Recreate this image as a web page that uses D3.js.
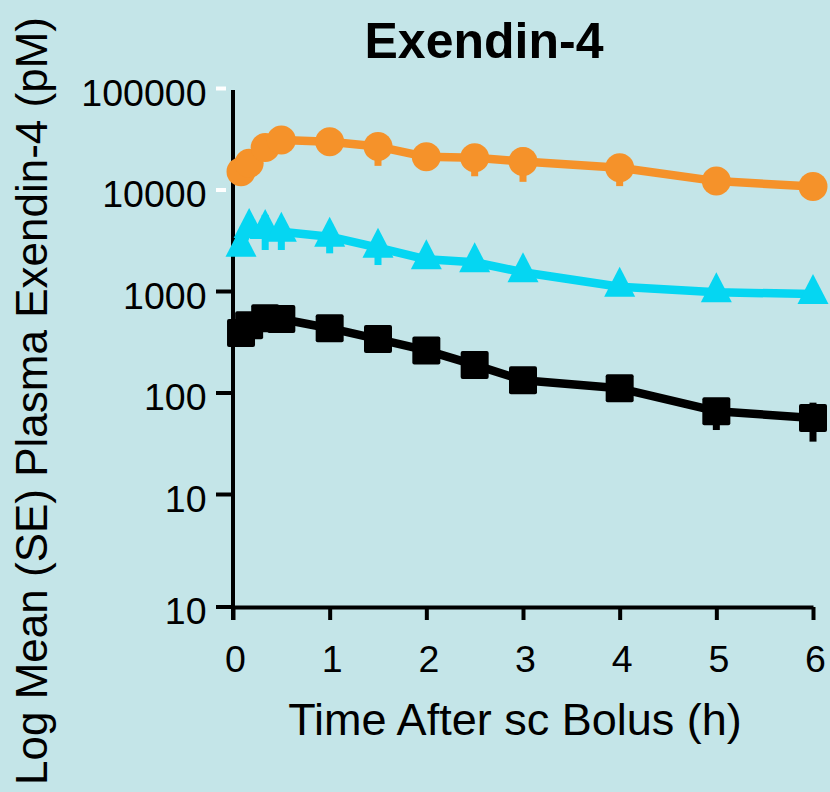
<!DOCTYPE html>
<html>
<head>
<meta charset="utf-8">
<script src="https://cdn.jsdelivr.net/npm/d3@7/dist/d3.min.js"></script>
<style>
  html, body { margin: 0; padding: 0; background: #c4e5e8; }
  svg { display: block; }
  text { font-family: "Liberation Sans", Arial, Helvetica, sans-serif; fill: #000; }
</style>
</head>
<body>
<svg id="chart" width="830" height="792"></svg>
<script>
// Sampling times (h) after the subcutaneous bolus
const times = [0.083, 0.167, 0.333, 0.5, 1, 1.5, 2, 2.5, 3, 4, 5, 6];

// Mean plasma exendin-4 (pM) and standard errors, one array per dose group
const highMean = [15000, 18100, 26000, 30700, 29600, 26500, 21000, 20500, 18900, 16400, 12100, 10700];
const highSE   = [1500, 2000, 3000, 3000, 3000, 9400, 3000, 7000, 7000, 5600, 1500, 1200];

const midMean  = [2730, 4180, 4080, 3840, 3430, 2670, 2050, 1920, 1530, 1100, 970, 935];
const midSE    = [400, 800, 1545, 1305, 1080, 867, 300, 250, 200, 150, 100, 100];

const lowMean  = [385, 459, 538, 530, 430, 336, 260, 187, 132, 110, 65.4, 56.1];
const lowSE    = [40, 50, 60, 60, 50, 40, 30, 20, 15, 12, 22.7, 23.3];

// Axis ticks
const xTicks = [0, 1, 2, 3, 4, 5, 6];
const yTicks = [10, 100, 1000, 10000, 100000];
const yTickLabels = ["10", "100", "1000", "10000", "100000"];
const yBaseLabel = "10";

const title = "Exendin-4";
const xTitle = "Time After sc Bolus (h)";
const yTitle = "Log Mean (SE) Plasma Exendin-4 (pM)";

const svg = d3.select("#chart");
const W = 830, H = 792;
svg.append("rect").attr("width", W).attr("height", H).attr("fill", "#c4e5e8");

const x = d3.scaleLinear().domain([0, 6]).range([233, 813]);
const y = d3.scaleLog().domain([10, 100000]).range([494, 88]);
const baseY = 607;      // x-axis baseline
const tickFont = 37.5;

// ---- y axis ----
const yAxis = d3.axisLeft(y)
  .tickValues(yTicks)
  .tickSize(17)
  .tickPadding(9)
  .tickFormat((d, i) => yTickLabels[i]);

const gy = svg.append("g").attr("transform", "translate(233,0)").call(yAxis);
gy.select(".domain").remove();
gy.selectAll(".tick line")
  .attr("stroke-width", 4)
  .attr("stroke", d => d >= 10000 ? "#ffffff" : "#000")
  .attr("x1", d => d >= 10000 ? -7 : 0);
gy.selectAll(".tick text")
  .attr("font-size", tickFont)
  .attr("dy", 0)
  .attr("y", 17)
  .attr("x", -26.5);

// vertical axis line
svg.append("line")
  .attr("x1", 233).attr("x2", 233)
  .attr("y1", 90).attr("y2", baseY + 13)
  .attr("stroke", "#000").attr("stroke-width", 4);

// bottom-left tick and its label
svg.append("line")
  .attr("x1", 216).attr("x2", 233)
  .attr("y1", baseY).attr("y2", baseY)
  .attr("stroke", "#000").attr("stroke-width", 4);
svg.append("text")
  .attr("x", 206.5).attr("y", baseY + 17)
  .attr("text-anchor", "end")
  .attr("font-size", tickFont)
  .text(yBaseLabel);

// ---- x axis ----
const xAxis = d3.axisBottom(x)
  .tickValues(xTicks)
  .tickSize(13)
  .tickSizeOuter(0)
  .tickFormat(d3.format("d"));

const gx = svg.append("g").attr("transform", `translate(0,${baseY})`).call(xAxis);
gx.select(".domain").attr("stroke", "#000").attr("stroke-width", 4);
gx.selectAll(".tick line").attr("stroke", "#000").attr("stroke-width", 4);
gx.selectAll(".tick text")
  .attr("font-size", tickFont)
  .attr("dy", 0)
  .attr("y", 65)
  .attr("x", 2);
gx.selectAll("text").attr("fill", "#000");
gy.selectAll("text").attr("fill", "#000");

// ---- titles ----
svg.append("text")
  .attr("x", 484).attr("y", 58)
  .attr("text-anchor", "middle")
  .attr("font-size", 50)
  .attr("font-weight", "bold")
  .text(title);

svg.append("text")
  .attr("x", 515).attr("y", 735)
  .attr("text-anchor", "middle")
  .attr("font-size", 45)
  .text(xTitle);

svg.append("text")
  .attr("transform", "translate(47,401) rotate(-90)")
  .attr("text-anchor", "middle")
  .attr("font-size", 44)
  .text(yTitle);

// ---- series ----
const series = [
  { mean: lowMean,  se: lowSE,  color: "#000000", shape: "square" },
  { mean: midMean,  se: midSE,  color: "#05d6f2", shape: "triangle" },
  { mean: highMean, se: highSE, color: "#f5922a", shape: "circle" }
];

const line = d3.line()
  .x(d => x(d.t))
  .y(d => y(d.v));

series.forEach(s => {
  const pts = times.map((t, i) => ({ t, v: s.mean[i], e: s.se[i] }));
  const g = svg.append("g");

  g.append("path")
    .datum(pts)
    .attr("d", line)
    .attr("fill", "none")
    .attr("stroke", s.color)
    .attr("stroke-width", 8.5)
    .attr("stroke-linejoin", "round");

  // SE bars
  g.selectAll("rect.err")
    .data(pts)
    .join("rect")
    .attr("class", "err")
    .attr("x", d => x(d.t) - 3.5)
    .attr("width", 7)
    .attr("y", d => y(d.v + d.e))
    .attr("height", d => y(Math.max(d.v - d.e, 1e-3)) - y(d.v + d.e))
    .attr("fill", s.color);

  if (s.shape === "circle") {
    g.selectAll("circle.mk")
      .data(pts)
      .join("circle")
      .attr("class", "mk")
      .attr("cx", d => x(d.t))
      .attr("cy", d => y(d.v))
      .attr("r", 14.5)
      .attr("fill", s.color);
  } else if (s.shape === "square") {
    const half = 14;
    g.selectAll("rect.mk")
      .data(pts)
      .join("rect")
      .attr("class", "mk")
      .attr("x", d => x(d.t) - half)
      .attr("y", d => y(d.v) - half)
      .attr("width", half * 2)
      .attr("height", half * 2)
      .attr("rx", 2)
      .attr("fill", s.color);
  } else {
    // isosceles triangle, base 31, height 30, anchored at its centroid
    const tri = "M0,-20L15.5,10L-15.5,10Z";
    g.selectAll("path.mk")
      .data(pts)
      .join("path")
      .attr("class", "mk")
      .attr("d", tri)
      .attr("transform", d => `translate(${x(d.t)},${y(d.v)})`)
      .attr("fill", s.color);
  }
});
</script>
</body>
</html>
